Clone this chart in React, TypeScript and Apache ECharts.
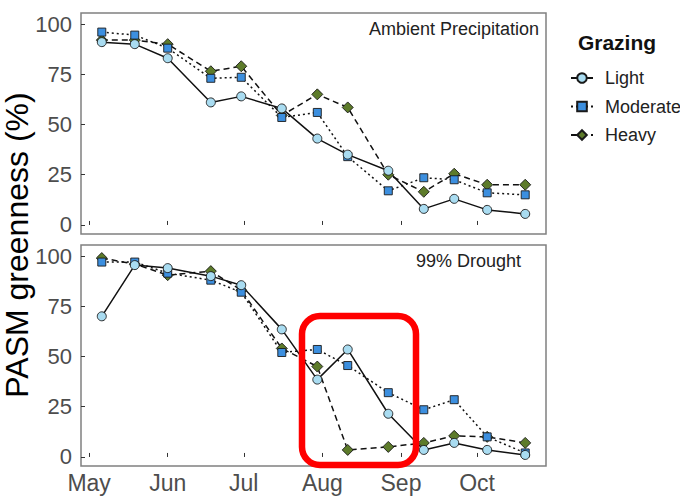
import React, { useEffect, useRef } from "react";
import * as echarts from "echarts";

const dates = [
  "2019-05-06", "2019-05-19", "2019-06-01", "2019-06-18", "2019-06-30",
  "2019-07-16", "2019-07-30", "2019-08-11", "2019-08-27", "2019-09-10",
  "2019-09-22", "2019-10-05", "2019-10-20",
];

const ambientLight = [91, 90, 83, 61, 64, 58, 43, 35, 27, 8, 13, 7.5, 5.5];
const ambientModerate = [96, 94.5, 88, 73, 73.5, 53.5, 56, 34, 17, 23.5, 22.5, 16, 15];
const ambientHeavy = [92, 92, 90, 76.5, 79, 54.5, 65, 58.5, 25, 16.5, 25.5, 20, 20];

const droughtLight = [70, 95.5, 94, 90, 85.5, 63.5, 38.5, 53.5, 21.5, 3.5, 7, 3.5, 1];
const droughtModerate = [97, 97, 91.5, 88, 82, 52, 53.5, 45.5, 32, 23.5, 28.5, 10, 2];
const droughtHeavy = [99, 96, 90.5, 92.5, 83, 54, 45, 3.5, 5, 7, 10.5, 10, 7];

const monthStartDates = ["2019-05-01", "2019-06-01", "2019-07-01", "2019-08-01", "2019-09-01", "2019-10-01"];
const monthLabels = ["May", "Jun", "Jul", "Aug", "Sep", "Oct"];
const yTicks = [0, 25, 50, 75, 100];

const grazingNames = ["Light", "Moderate", "Heavy"];
const panelLabels = ["Ambient Precipitation", "99% Drought"];

const FONT = "'Liberation Sans', Arial, Helvetica, sans-serif";

function doy(s: string): number {
  const [y, m, d] = s.split("-").map(Number);
  return (Date.UTC(y, m - 1, d) - Date.UTC(y, 0, 1)) / 86400000;
}

const monthStarts = monthStartDates.map(doy);

const styles: Record<string, any> = {
  Light: {
    symbol: "circle",
    symbolSize: 9,
    color: "#a9dcf1",
    lineType: "solid",
  },
  Moderate: {
    symbol: "rect",
    symbolSize: 8,
    color: "#3c8fdf",
    lineType: [2, 3],
  },
  Heavy: {
    symbol: "diamond",
    symbolSize: 11,
    color: "#5d7b2a",
    lineType: [6, 4],
  },
};

function makeSeries(name: string, values: number[], idx: number) {
  const st = styles[name];
  return {
    type: "line",
    name,
    xAxisIndex: idx,
    yAxisIndex: idx,
    data: dates.map((d, i) => [doy(d), values[i]]),
    symbol: st.symbol,
    symbolSize: st.symbolSize,
    showSymbol: true,
    lineStyle: { color: "#111", width: 1.5, type: st.lineType },
    itemStyle: { color: st.color, borderColor: "#1a1a1a", borderWidth: 0.9 },
    emphasis: { disabled: true },
  };
}

export default function App() {
  const ref = useRef<HTMLDivElement>(null);

  useEffect(() => {
    if (!ref.current) return;
    const chart = echarts.init(ref.current, undefined, { renderer: "svg" });

    const xAxisBase = (idx: number, showLabels: boolean) => ({
      type: "value",
      gridIndex: idx,
      min: 116.8,
      max: 300.2,
      axisLine: { show: false },
      splitLine: { show: false },
      axisTick: {
        show: true,
        inside: true,
        length: 4,
        customValues: monthStarts,
        lineStyle: { color: "#333", width: 1 },
      },
      axisLabel: {
        show: showLabels,
        customValues: monthStarts,
        margin: 5,
        fontSize: 23,
        color: "#4d4d4d",
        fontFamily: FONT,
        formatter: (v: number) => {
          let best = 0;
          let bd = Infinity;
          monthStarts.forEach((m, i) => {
            const dd = Math.abs(m - v);
            if (dd < bd) {
              bd = dd;
              best = i;
            }
          });
          return monthLabels[best];
        },
      },
    });

    const yAxisBase = (idx: number) => ({
      type: "value",
      gridIndex: idx,
      min: -4.5,
      max: 105.5,
      axisLine: { show: false },
      splitLine: { show: false },
      axisTick: {
        show: true,
        inside: true,
        length: 4,
        customValues: yTicks,
        lineStyle: { color: "#333", width: 1 },
      },
      axisLabel: {
        customValues: yTicks,
        margin: 9,
        fontSize: 22,
        color: "#4d4d4d",
        fontFamily: FONT,
      },
    });

    const option: any = {
      animation: false,
      backgroundColor: "#ffffff",
      grid: [
        { left: 81, width: 465, top: 13, height: 221, show: true, borderColor: "#808080", borderWidth: 1.5, backgroundColor: "transparent" },
        { left: 81, width: 465, top: 245, height: 221, show: true, borderColor: "#808080", borderWidth: 1.5, backgroundColor: "transparent" },
      ],
      xAxis: [xAxisBase(0, false), xAxisBase(1, true)],
      yAxis: [yAxisBase(0), yAxisBase(1)],
      legend: {
        data: grazingNames,
        orient: "vertical",
        left: 565,
        top: 64,
        itemWidth: 22,
        itemHeight: 12,
        itemGap: 10.5,
        textStyle: { fontSize: 18, color: "#222", fontFamily: FONT, padding: [0, 0, 0, 7] },
        selectedMode: false,
      },
      series: [
        makeSeries("Heavy", ambientHeavy, 0),
        makeSeries("Moderate", ambientModerate, 0),
        makeSeries("Light", ambientLight, 0),
        makeSeries("Heavy", droughtHeavy, 1),
        makeSeries("Moderate", droughtModerate, 1),
        makeSeries("Light", droughtLight, 1),
      ],
      graphic: [
        {
          type: "text",
          x: 17,
          y: 245,
          rotation: Math.PI / 2,
          style: {
            text: "PASM greenness (%)",
            fontSize: 32,
            fontFamily: FONT,
            fill: "#000",
            align: "center",
            verticalAlign: "middle",
          },
        },
        {
          type: "text",
          x: 617,
          y: 42,
          style: {
            text: "Grazing",
            fontSize: 21,
            fontWeight: "bold",
            fontFamily: FONT,
            fill: "#111",
            align: "center",
            verticalAlign: "middle",
          },
        },
        {
          type: "text",
          x: 539,
          y: 29,
          style: {
            text: panelLabels[0],
            fontSize: 18,
            fontFamily: FONT,
            fill: "#222",
            align: "right",
            verticalAlign: "middle",
          },
        },
        {
          type: "text",
          x: 521,
          y: 261,
          style: {
            text: panelLabels[1],
            fontSize: 18,
            fontFamily: FONT,
            fill: "#222",
            align: "right",
            verticalAlign: "middle",
          },
        },
        {
          type: "rect",
          z: 100,
          shape: { x: 302, y: 316, width: 114, height: 149, r: 18 },
          style: { fill: "none", stroke: "#ff0000", lineWidth: 6.5 },
        },
      ],
    };

    chart.setOption(option);
    return () => chart.dispose();
  }, []);

  return (
    <div
      ref={ref}
      style={{ position: "absolute", left: 0, top: 0, width: 680, height: 500 }}
    />
  );
}
